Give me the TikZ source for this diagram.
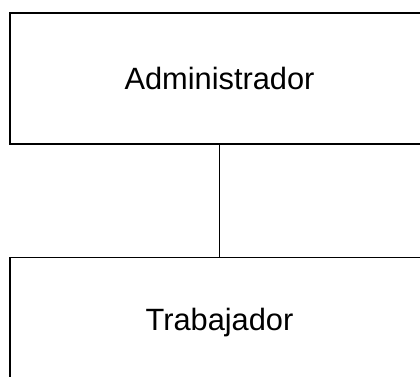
\documentclass[tikz,border=0pt]{standalone}
\usepackage{fontspec}
\setmainfont{Liberation Sans}
\usetikzlibrary{positioning}

\begin{document}
\begin{tikzpicture}[x=1pt,y=1pt,
    role/.style={draw, line width=1.3pt, rectangle, inner sep=0pt, minimum width=419pt, minimum height=131pt, font=\fontsize{30.8}{36}\selectfont}]
                \useasboundingbox (0,0) rectangle (420,-376);
                \clip (0,0) rectangle (420,-376);
                \node[role] (admin) at (219.5,-78.5) {Administrador};
                \node[role, below=112pt of admin] (worker) {Trabajador};
                \draw[line width=1.3pt] (admin.south) -- (worker.north);
            \end{tikzpicture}
\end{document}
